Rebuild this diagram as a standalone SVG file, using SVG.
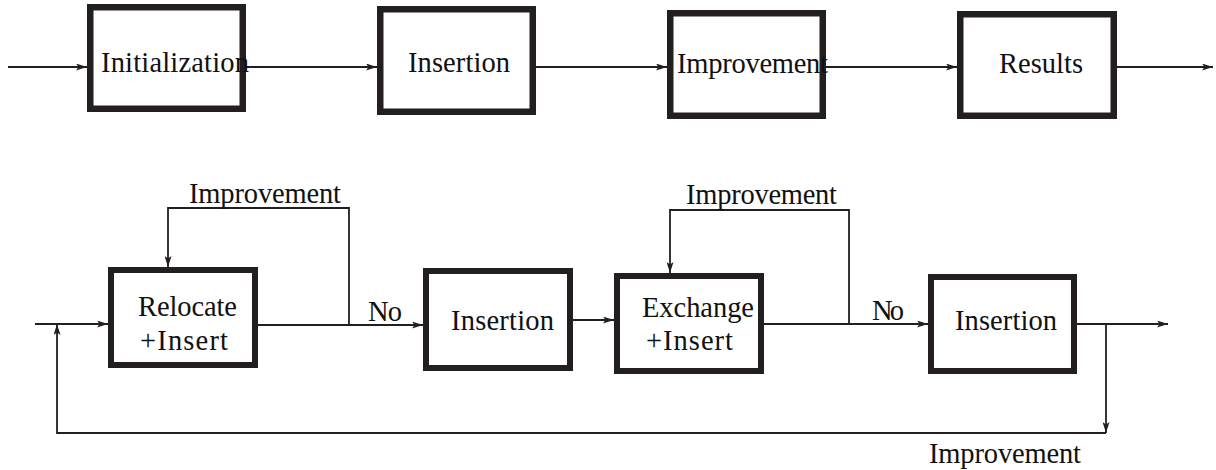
<svg xmlns="http://www.w3.org/2000/svg" width="1216" height="470" viewBox="0 0 1216 470">
<style>
.box{fill:#fff;stroke:#231f20;stroke-width:6.5}
.box2{fill:#fff;stroke:#231f20;stroke-width:6}
.lbl{font-size:28.5px;fill:#111}
.ln{fill:none;stroke:#231f20;stroke-width:1.8}
.arr{marker-end:url(#ah)}
</style>
<defs>
<marker id="ah" viewBox="0 0 11 7" refX="11" refY="3.5" markerWidth="11" markerHeight="7" markerUnits="userSpaceOnUse" orient="auto">
<path d="M0,0 L11,3.5 L0,7 L2.5,3.5 Z" fill="#231f20"/>
</marker>
</defs>
<g id="connectors">
<path class="ln arr" d="M8,67 H87"/>
<path class="ln arr" d="M246,67 H377"/>
<path class="ln arr" d="M536,67 H667"/>
<path class="ln arr" d="M826,67 H957"/>
<path class="ln arr" d="M1117,67 H1213"/>
<path class="ln arr" d="M35,324 H108"/>
<path class="ln arr" d="M258,325 H423"/>
<path class="ln arr" d="M349,325 V208 H168 V267"/>
<path class="ln arr" d="M573,320 H614"/>
<path class="ln arr" d="M764,324 H928"/>
<path class="ln arr" d="M849,324 V210 H670 V273"/>
<path class="ln arr" d="M1077,324 H1168"/>
<path class="ln arr" d="M1106,324 V433"/>
<path class="ln arr" d="M1106,433 H57 V324"/>
</g>
<g font-family="Liberation Serif">
<g id="n-init"><rect class="box" x="90.25" y="7.25" width="152.5" height="101.5"/><text class="lbl" font-family="Liberation Serif" x="101" y="72" textLength="148">Initialization</text></g>
<g id="n-insertion-top"><rect class="box" x="380.25" y="9.25" width="152.5" height="102.5"/><text class="lbl" font-family="Liberation Serif" x="408" y="72" textLength="102">Insertion</text></g>
<g id="n-improvement-top"><rect class="box" x="670.25" y="13.25" width="152.5" height="102.5"/><text class="lbl" font-family="Liberation Serif" x="677" y="73" textLength="151">Improvement</text></g>
<g id="n-results"><rect class="box" x="960.25" y="14.25" width="153.5" height="101.5"/><text class="lbl" font-family="Liberation Serif" x="999" y="73" textLength="84">Results</text></g>
<g id="n-relocate"><rect class="box2" x="111" y="270" width="144" height="95"/><text class="lbl" font-family="Liberation Serif" x="138" y="316" textLength="99">Relocate</text><text class="lbl" font-family="Liberation Serif" x="140" y="350" textLength="88">+Insert</text></g>
<g id="n-insertion-2"><rect class="box2" x="426" y="271" width="144" height="97"/><text class="lbl" font-family="Liberation Serif" x="451" y="330" textLength="103">Insertion</text></g>
<g id="n-exchange"><rect class="box2" x="617" y="276" width="144" height="95"/><text class="lbl" font-family="Liberation Serif" x="642" y="317" textLength="112">Exchange</text><text class="lbl" font-family="Liberation Serif" x="646" y="350" textLength="87">+Insert</text></g>
<g id="n-insertion-3"><rect class="box2" x="931" y="277" width="143" height="94"/><text class="lbl" font-family="Liberation Serif" x="955" y="330" textLength="102">Insertion</text></g>
<g id="labels">
<text class="lbl" font-family="Liberation Serif" x="189" y="203" textLength="152">Improvement</text>
<text class="lbl" font-family="Liberation Serif" x="368" y="321" textLength="34">No</text>
<text class="lbl" font-family="Liberation Serif" x="686" y="204" textLength="151">Improvement</text>
<text class="lbl" font-family="Liberation Serif" x="872" y="320" textLength="32">No</text>
<text class="lbl" font-family="Liberation Serif" x="929" y="463" textLength="152">Improvement</text>
</g>
</g>
</svg>
